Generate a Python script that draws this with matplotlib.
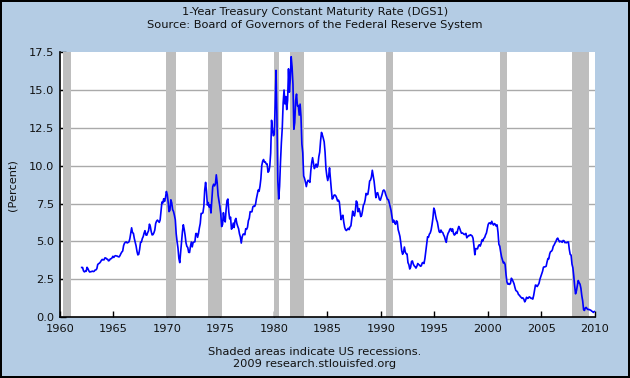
import numpy as np
import matplotlib.pyplot as plt

# monthly 1-year treasury rate, Jan 1962 .. Dec 2009
START_YEAR = 1962
rate = [
    3.28, 3.28, 3.06, 2.99, 3.03, 3.03, 3.29, 3.20, 3.06, 2.98, 3.00, 3.01,  # 1962
    3.04, 3.01, 3.03, 3.11, 3.12, 3.20, 3.48, 3.53, 3.57, 3.64, 3.74, 3.81,  # 1963
    3.79, 3.78, 3.91, 3.91, 3.84, 3.83, 3.72, 3.74, 3.84, 3.86, 3.91, 4.02,  # 1964
    3.94, 4.03, 4.06, 4.04, 4.03, 3.99, 3.98, 4.07, 4.20, 4.30, 4.37, 4.72,  # 1965
    4.88, 4.94, 4.97, 4.90, 4.93, 4.97, 5.17, 5.54, 5.90, 5.58, 5.54, 5.20,  # 1966
    4.94, 4.71, 4.35, 4.11, 4.15, 4.48, 4.94, 4.96, 5.19, 5.32, 5.55, 5.71,  # 1967
    5.43, 5.41, 5.58, 5.71, 6.14, 5.98, 5.65, 5.43, 5.45, 5.57, 5.75, 6.19,  # 1968
    6.34, 6.41, 6.34, 6.26, 6.42, 7.04, 7.60, 7.54, 7.82, 7.64, 7.89, 8.30,  # 1969
    8.10, 7.59, 6.97, 7.06, 7.75, 7.55, 7.10, 6.98, 6.73, 6.43, 5.51, 5.00,  # 1970
    4.57, 3.89, 3.60, 4.30, 5.04, 5.64, 6.10, 5.80, 5.41, 4.91, 4.67, 4.60,  # 1971
    4.28, 4.27, 4.67, 4.96, 4.64, 4.93, 4.96, 4.98, 5.52, 5.52, 5.27, 5.52,  # 1972
    5.89, 6.19, 6.85, 6.85, 6.89, 7.31, 8.39, 8.90, 8.31, 7.40, 7.57, 7.27,  # 1973
    7.42, 6.88, 7.76, 8.62, 8.78, 8.67, 8.80, 9.40, 8.87, 8.05, 7.66, 7.31,  # 1974
    6.83, 5.98, 6.11, 6.90, 6.39, 6.29, 7.11, 7.70, 7.80, 6.95, 6.49, 6.60,  # 1975
    5.81, 5.91, 6.21, 5.92, 6.40, 6.52, 6.20, 6.00, 5.84, 5.50, 5.29, 4.89,  # 1976
    5.29, 5.47, 5.50, 5.44, 5.84, 5.80, 5.94, 6.37, 6.53, 6.97, 6.95, 6.96,  # 1977
    7.28, 7.34, 7.31, 7.45, 7.82, 8.09, 8.39, 8.31, 8.64, 9.14, 10.01, 10.30,  # 1978
    10.41, 10.24, 10.25, 10.12, 10.12, 9.57, 9.64, 9.98, 10.84, 13.00, 12.39, 11.98,  # 1979
    12.06, 13.92, 16.30, 13.30, 9.00, 7.80, 8.65, 10.24, 11.52, 12.49, 14.15, 15.00,  # 1980
    14.08, 14.57, 13.71, 14.32, 16.40, 14.86, 15.72, 17.20, 16.52, 15.38, 12.41, 12.85,  # 1981
    14.32, 14.73, 13.95, 13.98, 13.34, 14.07, 13.24, 11.43, 10.85, 9.32, 9.16, 8.91,  # 1982
    8.62, 8.92, 9.04, 8.98, 8.90, 9.66, 10.20, 10.53, 10.16, 9.81, 9.94, 10.11,  # 1983
    9.90, 10.04, 10.59, 10.90, 11.66, 12.20, 12.03, 11.82, 11.58, 10.90, 9.82, 9.33,  # 1984
    9.02, 9.29, 9.86, 9.14, 8.46, 7.80, 7.86, 8.05, 8.07, 8.01, 7.88, 7.67,  # 1985
    7.73, 7.61, 7.03, 6.44, 6.65, 6.73, 6.27, 5.93, 5.77, 5.72, 5.80, 5.87,  # 1986
    5.78, 5.96, 6.03, 6.50, 7.00, 6.80, 6.68, 7.03, 7.67, 7.59, 6.96, 7.17,  # 1987
    6.99, 6.64, 6.71, 7.01, 7.40, 7.49, 7.75, 8.17, 8.09, 8.11, 8.48, 8.99,  # 1988
    9.05, 9.25, 9.70, 9.36, 8.98, 8.44, 7.89, 8.18, 8.22, 7.99, 7.77, 7.72,  # 1989
    7.92, 8.11, 8.35, 8.40, 8.32, 8.10, 7.94, 7.78, 7.76, 7.55, 7.31, 7.05,  # 1990
    6.64, 6.27, 6.40, 6.24, 6.13, 6.36, 6.31, 5.78, 5.57, 5.33, 4.89, 4.38,  # 1991
    4.15, 4.29, 4.63, 4.30, 4.19, 4.17, 3.60, 3.47, 3.18, 3.30, 3.68, 3.71,  # 1992
    3.50, 3.39, 3.33, 3.24, 3.36, 3.54, 3.47, 3.44, 3.36, 3.39, 3.58, 3.61,  # 1993
    3.54, 3.87, 4.32, 4.82, 5.31, 5.27, 5.48, 5.56, 5.76, 6.11, 6.54, 7.20,  # 1994
    7.05, 6.70, 6.43, 6.27, 5.93, 5.64, 5.59, 5.75, 5.62, 5.59, 5.43, 5.31,  # 1995
    5.09, 4.94, 5.34, 5.54, 5.64, 5.81, 5.85, 5.67, 5.83, 5.55, 5.42, 5.47,  # 1996
    5.61, 5.53, 5.80, 5.99, 5.87, 5.69, 5.54, 5.56, 5.52, 5.46, 5.46, 5.53,  # 1997
    5.24, 5.31, 5.39, 5.38, 5.44, 5.41, 5.36, 5.21, 4.71, 4.12, 4.53, 4.52,  # 1998
    4.51, 4.70, 4.78, 4.69, 4.85, 5.10, 5.03, 5.20, 5.25, 5.43, 5.55, 5.84,  # 1999
    6.12, 6.22, 6.22, 6.15, 6.33, 6.17, 6.08, 6.18, 6.13, 6.01, 6.09, 5.60,  # 2000
    4.81, 4.68, 4.30, 3.98, 3.78, 3.58, 3.62, 3.47, 2.82, 2.33, 2.18, 2.22,  # 2001
    2.16, 2.23, 2.57, 2.48, 2.35, 2.20, 1.96, 1.76, 1.72, 1.65, 1.49, 1.45,  # 2002
    1.36, 1.30, 1.24, 1.27, 1.18, 1.01, 1.12, 1.31, 1.24, 1.25, 1.34, 1.31,  # 2003
    1.24, 1.24, 1.19, 1.43, 1.78, 2.12, 2.10, 2.02, 2.12, 2.23, 2.50, 2.67,  # 2004
    2.86, 3.03, 3.30, 3.32, 3.33, 3.36, 3.64, 3.87, 3.85, 4.18, 4.33, 4.35,  # 2005
    4.45, 4.68, 4.77, 4.90, 5.00, 5.16, 5.22, 5.08, 4.97, 5.01, 5.01, 4.94,  # 2006
    5.06, 5.05, 4.92, 4.93, 4.91, 4.96, 4.96, 4.47, 4.14, 4.10, 3.50, 3.26,  # 2007
    2.71, 2.05, 1.54, 1.74, 2.06, 2.42, 2.28, 2.18, 1.91, 1.42, 1.07, 0.49,  # 2008
    0.44, 0.62, 0.64, 0.55, 0.50, 0.51, 0.48, 0.46, 0.40, 0.37, 0.31, 0.37,  # 2009
]

# NBER recessions (start, end) in decimal years
rec_start = [1960.25, 1969.92, 1973.83, 1980.0, 1981.5, 1990.5, 2001.17, 2007.92]
rec_end = [1961.08, 1970.83, 1975.17, 1980.5, 1982.83, 1991.17, 2001.83, 2009.42]

x_ticks = list(range(1960, 2011, 5))
y_ticks = [0.0, 2.5, 5.0, 7.5, 10.0, 12.5, 15.0, 17.5]

BG = '#B4CCE4'
FS = 8.2

dates = START_YEAR + (np.arange(len(rate)) + 0.5) / 12.0

fig = plt.figure(figsize=(6.3, 3.78), dpi=100, facecolor=BG,
                 edgecolor='black', linewidth=1.5)
ax = fig.add_axes([0.095, 0.161, 0.849, 0.701])
ax.set_facecolor('white')

for yv in y_ticks[1:-1]:
    ax.axhline(yv, color='#AAAAAA', lw=1, zorder=1)
for s, e in zip(rec_start, rec_end):
    ax.axvspan(s, e, color='#BEBEBE', lw=0, zorder=2)

ax.plot(dates, rate, color='#0000FF', lw=1.2, zorder=3)

ax.set_xlim(1960, 2010)
ax.set_ylim(0, 17.5)
ax.set_xticks(x_ticks)
ax.set_yticks(y_ticks)
ax.set_yticklabels(['%.1f' % v for v in y_ticks])
ax.tick_params(direction='in', length=4, width=1, labelsize=FS,
               color='black', labelcolor='#111111')
ax.tick_params(axis='x', pad=5)
ax.tick_params(axis='y', pad=4)
for side in ['top', 'right']:
    ax.spines[side].set_visible(False)
for side in ['left', 'bottom']:
    ax.spines[side].set_color('black')
    ax.spines[side].set_linewidth(1.2)

fig.text(0.5, 0.968, '1-Year Treasury Constant Maturity Rate (DGS1)',
         ha='center', va='center', fontsize=FS, color='#111111')
fig.text(0.5, 0.934, 'Source: Board of Governors of the Federal Reserve System',
         ha='center', va='center', fontsize=FS, color='#111111')
fig.text(0.5, 0.069, 'Shaded areas indicate US recessions.',
         ha='center', va='center', fontsize=FS, color='#111111')
fig.text(0.5, 0.037, '2009 research.stlouisfed.org',
         ha='center', va='center', fontsize=FS, color='#111111')
fig.text(0.02, 0.51, '(Percent)', rotation=90, ha='center', va='center',
         fontsize=FS, color='#111111')

fig.savefig('out.png', dpi=100, facecolor=BG)
